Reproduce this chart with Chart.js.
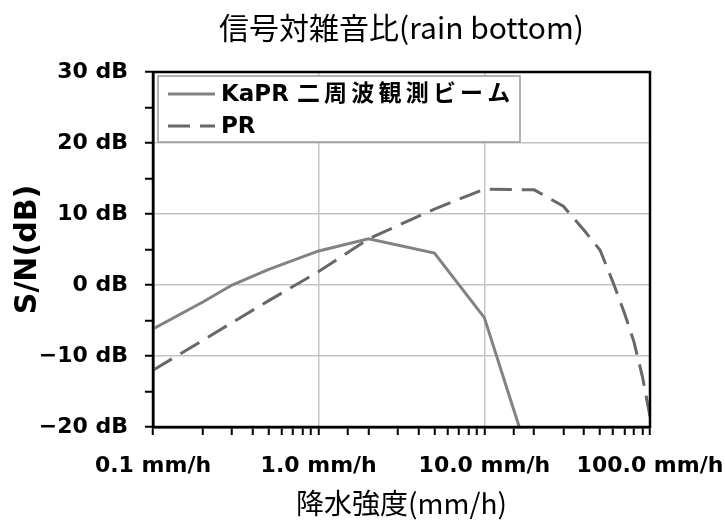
<!DOCTYPE html>
<html><head><meta charset="utf-8">
<script src="https://cdn.jsdelivr.net/npm/chart.js@4.4.1/dist/chart.umd.min.js"></script>
<style>html,body{margin:0;padding:0;background:#fff;} canvas{display:block;}</style>
</head><body>
<canvas id="c" width="725" height="523"></canvas>
<script>
const chartTitle = '信号対雑音比(rain bottom)';
const xAxisTitle = '降水強度(mm/h)';
const yAxisTitle = 'S/N(dB)';
const seriesNames = ['KaPR 二周波観測ビーム', 'PR'];
const kaprRain = [0.1, 0.2, 0.3, 0.5, 1, 2, 5, 10, 20];
const kaprSN   = [-6.2, -2.4, 0.0, 2.2, 4.8, 6.5, 4.5, -4.6, -26.6];
const prRain = [0.1, 0.2, 0.3, 0.5, 1, 2, 5, 10, 20, 30, 40, 50, 60, 70, 80, 90, 100];
const prSN   = [-12, -7.8, -5.3, -2.2, 1.9, 6.5, 10.7, 13.5, 13.4, 11.1, 7.7, 4.9, 0.3, -3.9, -8.0, -12.9, -18.5];
const xTickValues = [0.1, 1, 10, 100];
const xTickLabels = ['0.1 mm/h', '1.0 mm/h', '10.0 mm/h', '100.0 mm/h'];
const yMin = -20, yMax = 30, yLabelStep = 10, yTickStep = 5;

const TICK_FONT = {family: '"DejaVu Sans"', weight: 'bold', size: 22};
const GRID = '#c4c4c4';
const NONE = 'rgba(0,0,0,0)';

const frame = {
  id: 'frame',
  afterDraw(chart) {
    const {ctx, chartArea: a} = chart;
    ctx.save();
    ctx.strokeStyle = '#000';
    ctx.lineWidth = 2.5;
    ctx.strokeRect(a.left, a.top, a.right - a.left, a.bottom - a.top);
    ctx.restore();
  }
};

const boxLegend = {
  id: 'boxLegend',
  afterDraw(chart) {
    const ctx = chart.ctx, a = chart.chartArea;
    const x0 = a.left + 5, y0 = a.top + 4, w = 362, h = 66;
    ctx.save();
    ctx.fillStyle = '#fff';
    ctx.fillRect(x0, y0, w, h);
    ctx.strokeStyle = '#999';
    ctx.lineWidth = 1.5;
    ctx.strokeRect(x0, y0, w, h);
    chart.data.datasets.forEach((ds, i) => {
      const y = y0 + 18 + i * 32;
      ctx.strokeStyle = ds.borderColor;
      ctx.lineWidth = ds.borderWidth;
      ctx.setLineDash(ds.borderDash || []);
      ctx.beginPath();
      ctx.moveTo(x0 + 10, y);
      ctx.lineTo(x0 + 57, y);
      ctx.stroke();
      ctx.setLineDash([]);
      ctx.fillStyle = '#000';
      ctx.font = 'bold 23px "DejaVu Sans", "Noto Sans CJK JP"';
      ctx.textBaseline = 'middle';
      ctx.textAlign = 'left';
      let x = x0 + 63;
      for (const ch of ds.label) {
        ctx.fillText(ch, x, y + 1);
        x += ctx.measureText(ch).width + (ch.charCodeAt(0) > 0x2E80 ? 4.2 : 0);
      }
    });
    ctx.restore();
  }
};

const near = (a, b) => Math.abs(a - b) <= Math.abs(b) * 1e-6;

new Chart(document.getElementById('c'), {
  type: 'line',
  data: {
    datasets: [
      {
        label: seriesNames[0],
        data: kaprRain.map((x, i) => ({x, y: kaprSN[i]})),
        borderColor: '#828282', borderWidth: 3, pointRadius: 0, fill: false, tension: 0
      },
      {
        label: seriesNames[1],
        data: prRain.map((x, i) => ({x, y: prSN[i]})),
        borderColor: '#686868', borderWidth: 3, borderDash: [22, 10], pointRadius: 0, fill: false, tension: 0
      }
    ]
  },
  options: {
    responsive: false,
    animation: false,
    devicePixelRatio: 1,
    layout: {padding: {left: 0, right: 75, top: 0, bottom: 0}},
    plugins: {
      legend: {display: false},
      tooltip: {enabled: false},
      title: {
        display: true, text: chartTitle, fullSize: false, color: '#000',
        font: {family: '"Noto Sans CJK JP"', size: 30, weight: 'normal'},
        padding: {top: 10, bottom: 26}
      }
    },
    scales: {
      x: {
        type: 'logarithmic', min: 0.1, max: 100,
        ticks: {
          autoSkip: false, maxRotation: 0, minRotation: 0, color: '#000', font: TICK_FONT, padding: 18,
          callback(v) { const i = xTickValues.findIndex(t => near(v, t)); return i >= 0 ? xTickLabels[i] : ''; }
        },
        grid: {
          color: c => (c.tick && (near(c.tick.value, 1) || near(c.tick.value, 10))) ? GRID : NONE,
          lineWidth: 1.5, tickColor: '#000', tickLength: 8, tickWidth: 2
        },
        border: {color: '#000', width: 2.5},
        title: {
          display: true, text: xAxisTitle, color: '#000',
          font: {family: '"Noto Sans CJK JP"', size: 28, weight: 'normal'},
          padding: {top: 0, bottom: 3}
        },
        afterFit(s) { s.height = 96; s.paddingLeft = 0; s.paddingRight = 0; }
      },
      y: {
        type: 'linear', min: yMin, max: yMax,
        ticks: {
          stepSize: yTickStep, autoSkip: false, color: '#000', font: TICK_FONT, padding: 17,
          callback(v) { return v % yLabelStep === 0 ? (v < 0 ? '\u2212' + Math.abs(v) : String(v)) + ' dB' : ''; }
        },
        grid: {
          color: c => (c.tick && c.tick.value % yLabelStep === 0 && c.tick.value > yMin && c.tick.value < yMax) ? GRID : NONE,
          lineWidth: 1.5, tickColor: '#000', tickLength: 8, tickWidth: 2
        },
        border: {color: '#000', width: 2.5},
        title: {
          display: true, text: yAxisTitle, color: '#000',
          font: {family: '"DejaVu Sans"', size: 30, weight: 'bold'},
          padding: {top: 10, bottom: 0}
        },
        afterFit(s) { s.width = 153; s.paddingTop = 0; s.paddingBottom = 0; }
      }
    }
  },
  plugins: [frame, boxLegend]
});
</script>
</body></html>
